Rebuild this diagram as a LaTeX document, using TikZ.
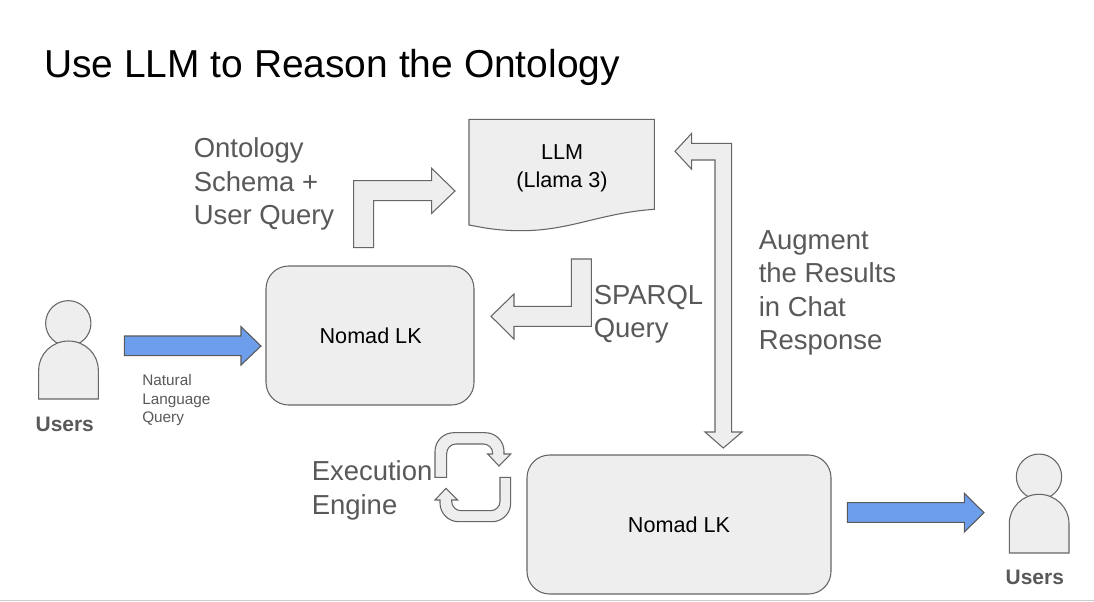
\documentclass[tikz,border=0pt]{standalone}
\usepackage{fontspec}
\setmainfont{Liberation Sans}
\definecolor{shapefill}{HTML}{EEEEEE}
\definecolor{shapeline}{HTML}{666666}
\definecolor{labelgray}{HTML}{595959}
\definecolor{bluefill}{HTML}{6D9EEB}
\definecolor{rulegray}{HTML}{CCCCCC}
\tikzset{
  blockshape/.style={draw=shapeline,fill=shapefill,line width=0.8pt,line join=miter},
  bluearrow/.style={draw=labelgray,fill=bluefill,line width=0.8pt},
  roundbox/.style={draw=shapeline,fill=shapefill,line width=0.8pt,rounded corners=17pt,inner sep=0pt,font=\fontsize{16.2pt}{19pt}\selectfont,text=black},
  headcircle/.style={circle,draw=shapeline,fill=shapefill,line width=0.8pt,minimum size=34pt,inner sep=0pt},
  biglabel/.style={anchor=north west,inner sep=0pt,align=left,text=labelgray,font=\fontsize{20.6pt}{25.1pt}\selectfont},
  smalllabel/.style={anchor=north west,inner sep=0pt,align=left,text=labelgray,font=\fontsize{11.5pt}{14pt}\selectfont},
  userlabel/.style={anchor=center,inner sep=0pt,text=labelgray,font=\fontsize{15.7pt}{18pt}\selectfont\bfseries}
}
\begin{document}
\begin{tikzpicture}[x=0.75pt,y=-0.75pt]
\useasboundingbox (0,0) rectangle (1094,601);
\fill[white] (0,0) rectangle (1094,601);
\draw[rulegray,line width=0.8pt] (0,600.3) -- (1094,600.3);

\node[anchor=base west,inner sep=0pt,font=\fontsize{29.2pt}{34pt}\selectfont] (title) at (44,77) {Use LLM to Reason the Ontology};

% LLM document
\draw[blockshape] (469,119.3) -- (654.3,119.3) -- (654.3,209.3)
  .. controls (600,213) and (570,231) .. (520,230.7)
  .. controls (497,230.5) and (485,228) .. (469,225) -- cycle;
\node[inner sep=0pt,align=center,text=black,font=\fontsize{16.2pt}{20.6pt}\selectfont] (llm) at (562,168.5) {LLM\\(Llama 3)};

% Nomad boxes
\node[roundbox,minimum width=156pt,minimum height=104.25pt] (nomadA) at (370,335.5) {\hspace*{1pt}Nomad LK};
\node[roundbox,minimum width=228pt,minimum height=104.25pt] (nomadB) at (679,524.5) {Nomad LK};

% Bent arrow: schema to LLM
\draw[blockshape] (353.7,247.7) -- (353.7,180.7) -- (431.7,180.7) -- (431.7,168.3) -- (455,191) -- (431.7,213.3) -- (431.7,200.7) -- (373.7,200.7) -- (373.7,247.7) -- cycle;

% Bent arrow: SPARQL
\draw[blockshape] (571.3,259) -- (591.3,259) -- (591.3,326.3) -- (514,326.3) -- (514,339) -- (491,316.3) -- (514,294) -- (514,306.3) -- (571.3,306.3) -- cycle;

% Long double arrow
\draw[blockshape] (675,151.3) -- (691.7,133.3) -- (691.7,143.3) -- (731.7,143.3) -- (731.7,432) -- (742,432) -- (723.3,448) -- (705,432) -- (715,432) -- (715,160) -- (691.7,160) -- (691.7,169.3) -- cycle;

% Cycle arrows
\draw[blockshape] (435,477.3) [rounded corners=14pt] -- (435,432.7) -- (504,432.7) [sharp corners] -- (504,454) -- (510.7,454) -- (499,466) -- (487.7,454) -- (492.7,454) [rounded corners=7pt] -- (492.7,444) -- (446.7,444) [sharp corners] -- (446.7,477.3) -- cycle;
\draw[blockshape] (500,477.3) -- (510.7,477.3) [rounded corners=14pt] -- (510.7,521.7) -- (440,521.7) [sharp corners] -- (440,500) -- (435,500) -- (446,488.3) -- (457.7,500) -- (451.7,500) [rounded corners=7pt] -- (451.7,510.7) -- (500,510.7) [sharp corners] -- cycle;

% Blue arrows
\draw[bluearrow] (124.3,336) -- (241,336) -- (241,326.7) -- (261,346) -- (241,365) -- (241,355.7) -- (124.3,355.7) -- cycle;
\draw[bluearrow] (847.3,502.7) -- (964.3,502.7) -- (964.3,493.3) -- (984,512.7) -- (964.3,532) -- (964.3,522.3) -- (847.3,522.3) -- cycle;

% Users
\node[headcircle] (headA) at (68.3,323.3) {};
\draw[blockshape] (38.7,399) -- (38.7,370) .. controls (38.7,354) and (52,341) .. (68.5,341) .. controls (85,341) and (98.3,354) .. (98.3,370) -- (98.3,399) -- cycle;
\node[headcircle] (headB) at (1039,476.7) {};
\draw[blockshape] (1009.3,553) -- (1009.3,523.5) .. controls (1009.3,507.5) and (1022.5,494.3) .. (1039,494.3) .. controls (1055.5,494.3) and (1069,507.5) .. (1069,523.5) -- (1069,553) -- cycle;
\node[userlabel] (usersA) at (64.8,424) {Users};
\node[userlabel] (usersB) at (1034.8,577) {Users};

% Labels
\node[biglabel] (schema) at (193.5,137.4) {Ontology\\Schema +\\User Query};
\node[biglabel] (sparql) at (593.5,285) {SPARQL\\Query};
\node[biglabel] (augment) at (758.5,230.3) {Augment\\the Results\\in Chat\\Response};
\node[biglabel] (engine) at (311.5,460.5) {Execution\\Engine};
\node[smalllabel] (nlq) at (142,374) {Natural\\Language\\Query};
\end{tikzpicture}
\end{document}
